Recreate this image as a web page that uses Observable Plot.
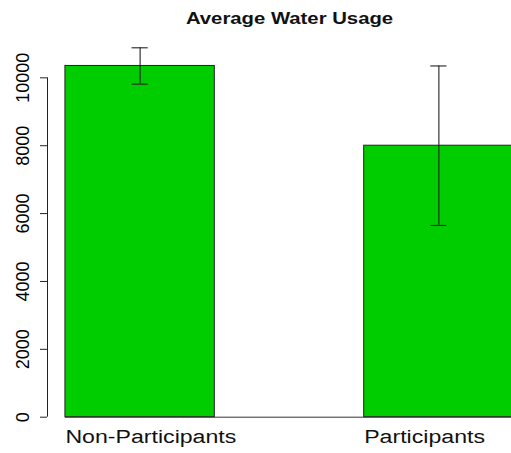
<!DOCTYPE html>
<html>
<head>
<meta charset="utf-8">
<script src="https://cdn.jsdelivr.net/npm/d3@7"></script>
<script src="https://cdn.jsdelivr.net/npm/@observablehq/plot@0.6"></script>
<style>
  html, body { margin: 0; padding: 0; background: white; overflow: hidden; }
  svg { overflow: hidden; }
</style>
</head>
<body>
<script>
// Data
const categories = ["Non-Participants", "Participants"];
const means = [10350, 8000];
const errors = [535, 2350];
const yTicks = [0, 2000, 4000, 6000, 8000, 10000];
const title = "Average Water Usage";

const data = categories.map((name, i) => ({
  name,
  mean: means[i],
  lo: means[i] - errors[i],
  hi: means[i] + errors[i],
  left: 1 + 2 * i,          // R barplot with space = 1
  right: 2 + 2 * i,
  mid: 1.5 + 2 * i
}));

// R's default 4% axis extension of the bar range [1, 4]
const xLo = 1, xHi = 2 * categories.length;
const ext = 0.04 * (xHi - xLo);
const capHalf = 0.054;
const green = "#00CD00";

const chart = Plot.plot({
  width: 511,
  height: 453,
  marginLeft: 47,
  marginRight: -20,
  marginTop: 43.4,
  marginBottom: 36.3,
  style: { fontFamily: "'Liberation Sans', Arial, sans-serif", background: "white", overflow: "hidden" },
  x: { type: "linear", domain: [xLo - ext, xHi + ext], axis: null },
  y: { domain: [0, 11000], axis: null },
  marks: [
    Plot.ruleY([0], { x1: xLo, x2: xHi + ext, stroke: "#333" }),
    Plot.rectY(data, { x1: "left", x2: "right", y: "mean", fill: green, stroke: "#222", strokeWidth: 1 }),
    Plot.ruleX(data, { x: "mid", y1: "lo", y2: "hi", stroke: "#222", strokeWidth: 1.1 }),
    Plot.ruleY(data, { y: "hi", x1: d => d.mid - capHalf, x2: d => d.mid + capHalf, stroke: "#222", strokeWidth: 1.1 }),
    Plot.ruleY(data, { y: "lo", x1: d => d.mid - capHalf, x2: d => d.mid + capHalf, stroke: "#222", strokeWidth: 1.1 }),
    Plot.ruleX([xLo - ext], { y1: yTicks[0], y2: yTicks[yTicks.length - 1], stroke: "#222" }),
    Plot.axisY({
      ticks: yTicks,
      tickSize: 7,
      tickRotate: -90,
      tickPadding: 12,
      fontSize: 18,
      tickFormat: d => String(d),
      stroke: "#222"
    }),
    Plot.text(data, {
      x: "left",
      text: "name",
      frameAnchor: "bottom",
      textAnchor: "start",
      lineAnchor: "bottom",
      dy: 26,
      fontSize: 18,
      fill: "#111"
    }),
    Plot.text([title], {
      text: d => d,
      frameAnchor: "top",
      lineAnchor: "bottom",
      dy: -20,
      fontSize: 16.5,
      fontWeight: "bold",
      fill: "#111"
    })
  ]
});

document.body.appendChild(chart);

// The reference glyphs are drawn horizontally wider than their height suggests
function stretch(labels, factor) {
  chart.querySelectorAll("text").forEach(t => {
    if (labels.includes(t.textContent)) {
      const w = t.getComputedTextLength();
      t.setAttribute("textLength", (w * factor).toFixed(1));
      t.setAttribute("lengthAdjust", "spacingAndGlyphs");
    }
  });
}
stretch(categories, 1.284);
stretch([title], 1.23);
</script>
</body>
</html>
